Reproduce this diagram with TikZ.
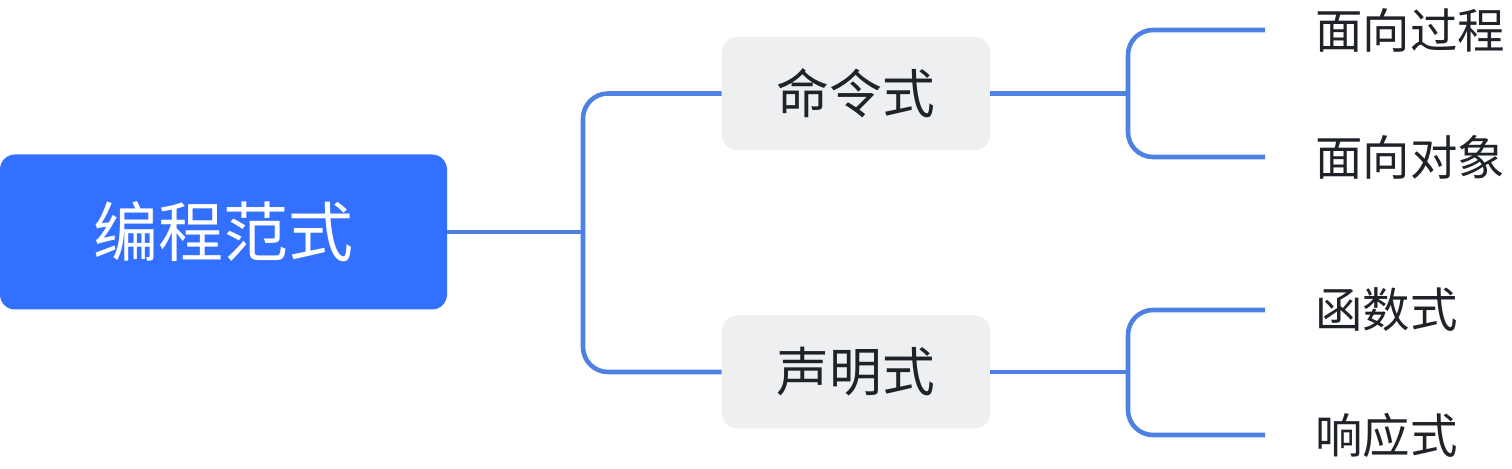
\documentclass[tikz,border=0pt]{standalone}
\usepackage{fontspec}
\setmainfont{Noto Sans CJK SC}
\usetikzlibrary{positioning}
\definecolor{rootblue}{HTML}{3370FF}
\definecolor{linkblue}{HTML}{4F81E3}
\definecolor{midgray}{HTML}{EEEFF1}
\definecolor{inkgray}{HTML}{1F2329}
\tikzset{
	rootbox/.style={fill=rootblue, rounded corners=0.3cm, minimum width=8.94cm, minimum height=3.1cm, text=white, font=\fontsize{37}{40}\selectfont},
	midbox/.style={fill=midgray, rounded corners=0.3cm, minimum width=5.36cm, minimum height=2.26cm, text=inkgray, font=\fontsize{30}{34}\selectfont},
	leafbox/.style={anchor=west, inner xsep=0pt, text=inkgray, font=\fontsize{27}{30}\selectfont},
	link/.style={draw=linkblue, line width=2.6pt},
	bracket/.style={link, rounded corners=0.5cm}
}
\begin{document}
\begin{tikzpicture}
			\useasboundingbox (0,0) rectangle (30.24,9.38);
			% Nodes
			\node[rootbox] (paradigm) at (4.47,4.74) {编程范式};
			\node[midbox] (imperative) at (17.12,7.51) {命令式};
			\node[midbox] (declarative) at (17.12,1.94) {声明式};
			\node[leafbox] (procedural) at (26.3,8.78) {面向过程};
			\node[leafbox] (objectoriented) at (26.3,6.24) {面向对象};
			\node[leafbox] (functional) at (26.3,3.18) {函数式};
			\node[leafbox] (reactive) at (26.3,0.68) {响应式};
			% Junctions
			\coordinate (fork) at (11.66,4.74);
			\coordinate (forkimp) at (22.56,7.51);
			\coordinate (forkdec) at (22.56,1.94);
			% Links
			\draw[link] (paradigm.east) -- (fork);
			\draw[bracket] (imperative.west) -| (fork) |- (declarative.west);
			\draw[link] (imperative.east) -- (forkimp);
			\draw[bracket, shorten <=1cm, shorten >=1cm] (procedural.west) -| (forkimp) |- (objectoriented.west);
			\draw[link] (declarative.east) -- (forkdec);
			\draw[bracket, shorten <=1cm, shorten >=1cm] (functional.west) -| (forkdec) |- (reactive.west);
		\end{tikzpicture}
\end{document}
